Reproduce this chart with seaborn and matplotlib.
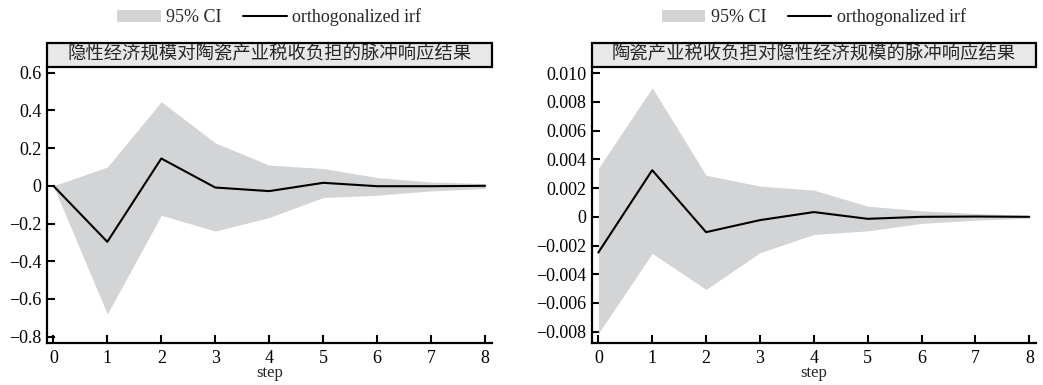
import matplotlib
matplotlib.use("Agg")
import matplotlib.pyplot as plt
import numpy as np
import pandas as pd
import seaborn as sns
from matplotlib.patches import Patch, Rectangle
from matplotlib.lines import Line2D
from matplotlib.ticker import FuncFormatter

# data
steps = [0, 1, 2, 3, 4, 5, 6, 7, 8]

# left panel: shadow economy -> ceramic industry tax burden
irf_left = [0.0, -0.297, 0.145, -0.009, -0.028, 0.016, -0.002, -0.002, 0.0]
upper_left = [0.0, 0.10, 0.446, 0.228, 0.11, 0.092, 0.044, 0.02, 0.012]
lower_left = [0.0, -0.68, -0.156, -0.24, -0.168, -0.062, -0.05, -0.027, -0.014]

# right panel: ceramic industry tax burden -> shadow economy
irf_right = [-0.00249, 0.00325, -0.00107, -0.00023, 0.00033, -0.00014, 0.0, 0.00002, 0.0]
upper_right = [0.00337, 0.00899, 0.0029, 0.00214, 0.00186, 0.00074, 0.00042, 0.00023, 0.0001]
lower_right = [-0.00813, -0.00255, -0.00506, -0.0025, -0.00123, -0.00098, -0.00046, -0.00023, -0.0001]

titles = ["隐性经济规模对陶瓷产业税收负担的脉冲响应结果",
          "陶瓷产业税收负担对隐性经济规模的脉冲响应结果"]
yticks_left = [-0.8, -0.6, -0.4, -0.2, 0, 0.2, 0.4, 0.6]
yticks_right = [-0.008, -0.006, -0.004, -0.002, 0, 0.002, 0.004, 0.006, 0.008, 0.010]
ylims = [(-0.832, 0.632), (-0.00877, 0.01046)]
decimals = [1, 3]

sns.set_theme(style="ticks")
plt.rcParams["font.family"] = ["Liberation Serif", "Noto Sans CJK SC", "DejaVu Sans"]
plt.rcParams["axes.unicode_minus"] = True

fig = plt.figure(figsize=(10.43, 3.85), dpi=100)
axes = [fig.add_axes([0.0448, 0.1099, 0.4267, 0.7169]),
        fig.add_axes([0.5673, 0.1099, 0.4260, 0.7169])]

panels = [
    (irf_left, upper_left, lower_left, yticks_left),
    (irf_right, upper_right, lower_right, yticks_right),
]

ci_color = "#d3d4d6"

for i, (ax, (irf, up, lo, yt)) in enumerate(zip(axes, panels)):
    df = pd.DataFrame({"step": steps, "irf": irf, "upper": up, "lower": lo})
    ax.fill_between(df["step"], df["lower"], df["upper"], color=ci_color, linewidth=0)
    sns.lineplot(data=df, x="step", y="irf", ax=ax, color="black", linewidth=1.5)

    ax.set_xlim(-0.123, 8.124)
    ax.set_ylim(*ylims[i])
    ax.set_xticks(steps)
    ax.set_yticks(yt)
    d = decimals[i]
    ax.yaxis.set_major_formatter(
        FuncFormatter(lambda v, p, d=d: "0" if abs(v) < 1e-12 else f"{v:.{d}f}".replace("-", "\u2212"))
    )
    ax.set_xlabel("step", fontsize=12, labelpad=-1)
    ax.set_ylabel("")
    ax.tick_params(direction="in", length=6, width=1.5, labelsize=13, pad=4, colors="black")
    ax.tick_params(axis="x", pad=5)
    for s in ["top", "right"]:
        ax.spines[s].set_visible(False)
    for s in ["left", "bottom"]:
        ax.spines[s].set_linewidth(1.6)
        ax.spines[s].set_color("black")

    # title box
    ax.add_patch(Rectangle((0, 1.0), 1.0, 0.087, transform=ax.transAxes, clip_on=False,
                           facecolor="#e8e8e8", edgecolor="black", linewidth=1.6))
    ax.text(0.5, 1.0435, titles[i], transform=ax.transAxes, ha="center", va="center",
            fontsize=13.2, family=["Noto Sans CJK SC", "DejaVu Sans"])

    handles = [Patch(facecolor=ci_color, edgecolor="none"),
               Line2D([0], [0], color="black", linewidth=1.5)]
    ax.legend(handles, ["95% CI", "orthogonalized irf"], loc="center",
              bbox_to_anchor=(0.5, 1.178), ncol=2, frameon=False, fontsize=13,
              handlelength=2.4, handletextpad=0.3, columnspacing=1.2)

fig.savefig("out.png", dpi=100)
